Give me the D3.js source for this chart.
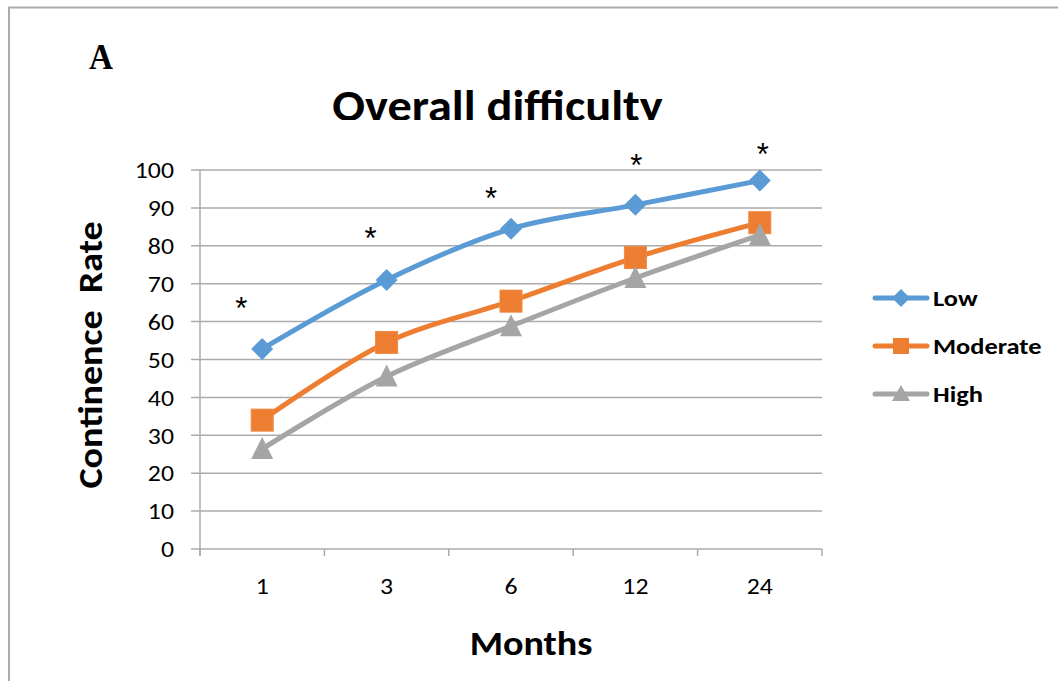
<!DOCTYPE html>
<html><head><meta charset="utf-8">
<script src="https://cdn.jsdelivr.net/npm/d3@7"></script>
<style>body{margin:0;background:#fff}svg{display:block}</style>
</head><body>
<script>
const months = ["1","3","6","12","24"];
const lowVals = [52.8, 71.0, 84.5, 90.8, 97.2];
const modVals = [34.0, 54.5, 65.4, 76.9, 86.1];
const highVals = [26.4, 45.5, 58.8, 71.5, 82.8];
const seriesNames = ["Low","Moderate","High"];
const seriesColors = ["#5B9BD5","#ED7D31","#A5A5A5"];
const yTicks = [0,10,20,30,40,50,60,70,80,90,100];
const starVals = [65.8, 84.3, 94.7, 103.5, 106.5];
const starOffsets = [-21, -16, -20, 1, 3];

const W = 1058, H = 681;
const svg = d3.select("body").append("svg").attr("width", W).attr("height", H);

// frame
svg.append("path").attr("d", `M9,${H} V7.5 H${W}`).attr("fill","none").attr("stroke","#ababab").attr("stroke-width",2);

const x = d3.scaleBand().domain(months).range([200, 822]);
const y = d3.scaleLinear().domain([0,100]).range([549, 170]);

// gridlines
svg.append("g").selectAll("line").data(yTicks).join("line")
  .attr("x1", 191).attr("x2", 822)
  .attr("y1", d => y(d)).attr("y2", d => y(d))
  .attr("stroke", "#ababab").attr("stroke-width", 1.5);

// y axis line
svg.append("line").attr("x1",200).attr("x2",200).attr("y1",y(100)).attr("y2",y(0)+7)
  .attr("stroke","#ababab").attr("stroke-width",1.5);
// x ticks at band boundaries
const bounds = months.map(m => x(m)).concat([x.range()[1]]);
svg.append("g").selectAll("line").data(bounds).join("line")
  .attr("x1", d=>d).attr("x2", d=>d).attr("y1", y(0)).attr("y2", y(0)+7)
  .attr("stroke","#ababab").attr("stroke-width",1.5);

const tickFont = "Carlito, Lato, 'Open Sans', sans-serif";
function widen(sel, f) {
  sel.each(function(){ const w = this.getComputedTextLength(); d3.select(this).attr("textLength", w*f).attr("lengthAdjust","spacingAndGlyphs"); });
}
// y tick labels
const yt = svg.append("g").selectAll("text").data(yTicks).join("text")
  .attr("x", 174).attr("y", d => y(d)).attr("dy","0.36em")
  .attr("text-anchor","end").attr("font-family", tickFont).attr("font-size", 23).attr("fill","#000")
  .text(d => d);
widen(yt, 1.12);
// x tick labels
const xt = svg.append("g").selectAll("text").data(months).join("text")
  .attr("x", d => x(d) + x.bandwidth()/2).attr("y", 586).attr("dy","0.36em")
  .attr("text-anchor","middle").attr("font-family", tickFont).attr("font-size", 23).attr("fill","#000")
  .text(d => d);
widen(xt, 1.12);

const cx = d => x(d) + x.bandwidth()/2;
const data = [lowVals, modVals, highVals];
const line = d3.line().x((d,i) => cx(months[i])).y(d => y(d)).curve(d3.curveCatmullRom.alpha(0.5));

data.forEach((vals, si) => {
  svg.append("path").attr("d", line(vals)).attr("fill","none")
    .attr("stroke", seriesColors[si]).attr("stroke-width", 5).attr("stroke-linecap","round");
});

const mg = svg.append("g");
data.forEach((vals, si) => vals.forEach((v,i) => {
  const px = cx(months[i]), py = y(v);
  if (si === 0) {
    mg.append("path").attr("d", `M${px},${py-11} L${px+11},${py} L${px},${py+11} L${px-11},${py} Z`).attr("fill", seriesColors[0]);
  } else if (si === 1) {
    mg.append("rect").attr("x", px-11).attr("y", py-11).attr("width",22).attr("height",22)
      .attr("fill", seriesColors[1]).attr("stroke","#F08A43").attr("stroke-width",1);
  } else {
    mg.append("path").attr("d", `M${px},${py-12} L${px+11},${py+10} L${px-11},${py+10} Z`).attr("fill", seriesColors[2]);
  }
}));

// significance asterisks
svg.append("g").selectAll("text").data(starVals).join("text")
  .attr("x", (d,i) => cx(months[i]) + starOffsets[i]).attr("y", d => y(d)).attr("dy","0.62em")
  .attr("text-anchor","middle").attr("font-family","'Liberation Sans', Arial, sans-serif").attr("font-size", 31).attr("fill","#000")
  .text("*");

// legend
const lg = svg.append("g");
seriesNames.forEach((n, i) => {
  const ly = 298 + i*48;
  lg.append("line").attr("x1", 875).attr("x2", 927).attr("y1", ly).attr("y2", ly)
    .attr("stroke", seriesColors[i]).attr("stroke-width", 5).attr("stroke-linecap","round");
  const px = 901;
  if (i === 0) lg.append("path").attr("d", `M${px},${ly-9} L${px+9},${ly} L${px},${ly+9} L${px-9},${ly} Z`).attr("fill", seriesColors[0]);
  else if (i === 1) lg.append("rect").attr("x", px-8).attr("y", ly-8).attr("width",16).attr("height",16).attr("fill", seriesColors[1]);
  else lg.append("path").attr("d", `M${px},${ly-9} L${px+9},${ly+7} L${px-9},${ly+7} Z`).attr("fill", seriesColors[2]);
  const t = lg.append("text").attr("x", 933).attr("y", ly).attr("dy","0.36em")
    .attr("font-family", tickFont).attr("font-weight","bold").attr("font-size", 22).attr("fill","#000").text(n);
  widen(t, 1.2);
});

// title (clipped at bottom like the reference)
svg.append("clipPath").attr("id","tclip").append("rect").attr("x",0).attr("y",0).attr("width",W).attr("height",120);
const title = svg.append("text").attr("x", 497.5).attr("y", 121).attr("text-anchor","middle").attr("clip-path","url(#tclip)")
  .attr("font-family", tickFont).attr("font-weight","bold").attr("font-size", 44).attr("fill","#000")
  .text("Overall difficulty");
widen(title, 1.1);

// panel letter
svg.append("text").attr("x", 89).attr("y", 69).attr("font-family","'Liberation Serif', 'Times New Roman', serif")
  .attr("font-weight","bold").attr("font-size", 36).attr("textLength", 24).attr("lengthAdjust","spacingAndGlyphs")
  .attr("fill","#000").text("A");

// axis titles
const yl = svg.append("text").attr("transform","translate(102,355) rotate(-90)").attr("text-anchor","middle")
  .attr("font-family", tickFont).attr("font-weight","bold").attr("font-size", 34).attr("fill","#000")
  .style("white-space","pre").text("Continence  Rate");
widen(yl, 1.12);
const xl = svg.append("text").attr("x", 531).attr("y", 655).attr("text-anchor","middle")
  .attr("font-family", tickFont).attr("font-weight","bold").attr("font-size", 34).attr("fill","#000")
  .text("Months");
widen(xl, 1.12);
</script>
</body></html>
